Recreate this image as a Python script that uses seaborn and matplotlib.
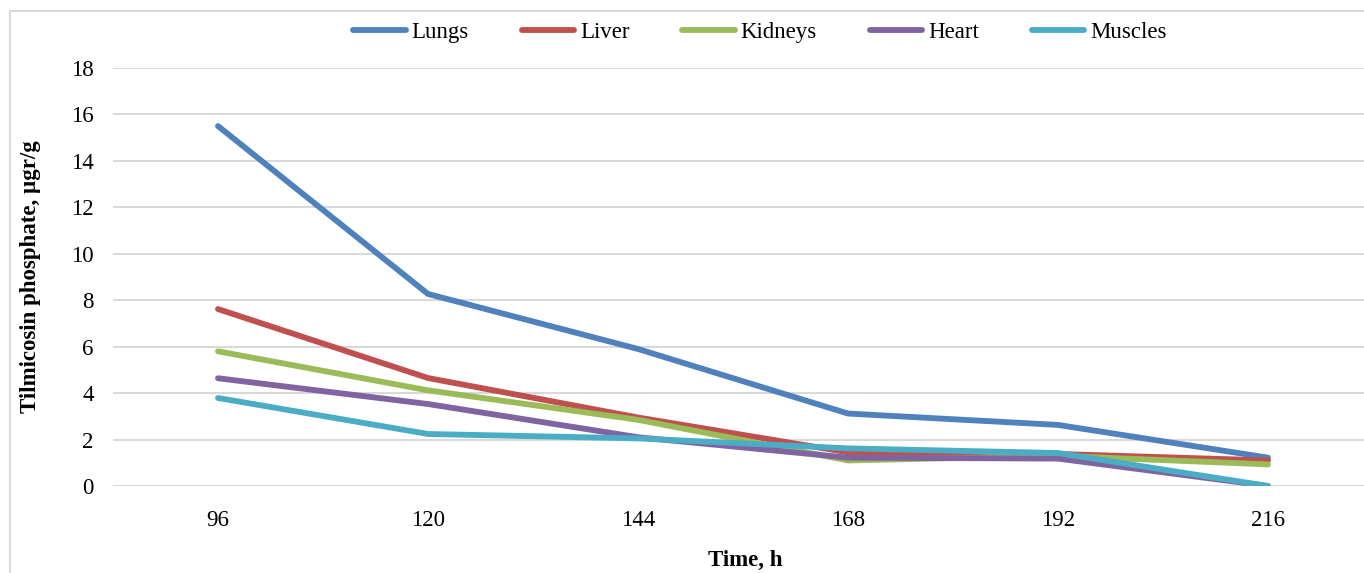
import pandas as pd
import seaborn as sns
import matplotlib.pyplot as plt
from matplotlib.patches import Rectangle

# time points (h) and residue levels per tissue
times = [96, 120, 144, 168, 192, 216]
lungs = [15.5, 8.27, 5.9, 3.12, 2.63, 1.22]
liver = [7.62, 4.65, 2.95, 1.45, 1.38, 1.1]
kidneys = [5.8, 4.12, 2.85, 1.1, 1.3, 0.93]
heart = [4.64, 3.53, 2.1, 1.22, 1.18, 0.0]
muscles = [3.79, 2.24, 2.05, 1.62, 1.42, 0.0]

tissues = ["Lungs", "Liver", "Kidneys", "Heart", "Muscles"]
colors = ["#4F81BD", "#C0504D", "#9BBB59", "#8064A2", "#4BACC6"]

rows = []
for name, vals in zip(tissues, [lungs, liver, kidneys, heart, muscles]):
    for i, v in enumerate(vals):
        rows.append({"pos": i, "value": v, "tissue": name})
df = pd.DataFrame(rows)

sns.set_style("white")
plt.rcParams['font.family'] = ['Liberation Serif', 'DejaVu Serif']
plt.rcParams['text.color'] = 'black'

fs = 16.5
lw = 4.2

fig = plt.figure(figsize=(13.64, 5.73), dpi=100)
ax = fig.add_axes([113 / 1364, 1 - 486 / 573, 1260 / 1364, 418 / 573])

sns.lineplot(data=df, x="pos", y="value", hue="tissue", hue_order=tissues,
             palette=colors, linewidth=lw, ax=ax, legend=False,
             solid_capstyle="round")

ax.set_xlim(-0.5, 5.5)
ax.set_ylim(0, 18)
ax.set_xticks(range(len(times)))
ax.set_xticklabels([str(t) for t in times])
ax.set_yticks(range(0, 19, 2))
ax.tick_params(axis="both", length=0, labelsize=fs, labelcolor="black")
ax.tick_params(axis="y", pad=14)
ax.tick_params(axis="x", pad=17)
ax.grid(axis="y", color="#D9D9D9", linewidth=1.5)
ax.set_axisbelow(True)
for s in ax.spines.values():
    s.set_visible(False)

ax.set_xlabel("")
ax.set_ylabel("")
fig.text(745 / 1364, 1 - 560 / 573, "Time, h", ha="center", va="center",
         fontsize=fs, fontweight="bold", color="black")
fig.text(31 / 1364, 1 - 277 / 573, "Tilmicosin phosphate, µgr/g", ha="center",
         va="center", rotation=90, fontsize=fs, fontweight="bold", color="black")

handles = [plt.Line2D([], [], color=c, linewidth=lw, solid_capstyle="round")
           for c in colors]
fig.legend(handles, tissues, loc="center", bbox_to_anchor=(760 / 1364, 1 - 32 / 573),
           ncol=5, frameon=False, fontsize=fs, handlelength=2.3,
           handletextpad=0.25, columnspacing=2.3, labelcolor="black")

# light frame around the whole chart
fig.patches.append(Rectangle((10 / 1364, -0.01), 1.02, 1 - 11 / 573 + 0.01,
                             transform=fig.transFigure, fill=False,
                             edgecolor="#D9D9D9", linewidth=1.5))

fig.savefig("out.png", dpi=100)
